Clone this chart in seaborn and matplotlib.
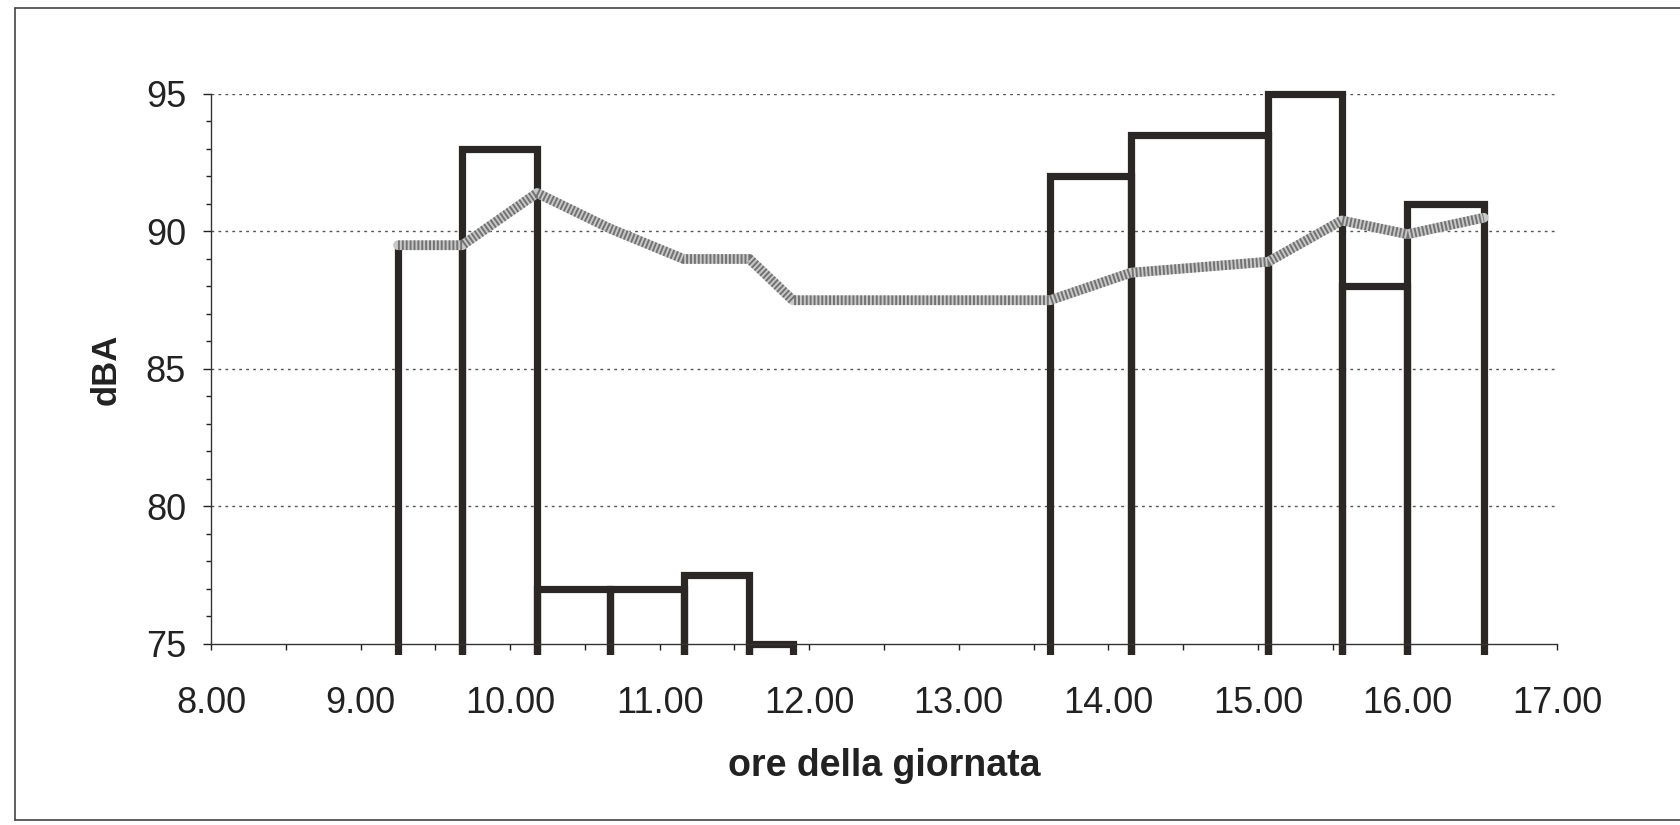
import matplotlib
matplotlib.use("Agg")
import numpy as np
import matplotlib.pyplot as plt
from matplotlib.lines import Line2D
from matplotlib.patches import Rectangle
from matplotlib.ticker import MultipleLocator, FormatStrFormatter
import seaborn as sns


# Misure del mattino: inizio di ogni intervallo (ore decimali) e livello
inizio_mattino = [9.25, 9.68, 10.18, 10.67, 11.16, 11.60]
fine_mattino = 11.89
livelli_mattino = [89.5, 93.0, 77.0, 77.0, 77.5, 75.0]

# Misure del pomeriggio
inizio_pomeriggio = [13.61, 14.15, 15.07, 15.56, 16.00]
fine_pomeriggio = 16.51
livelli_pomeriggio = [92.0, 93.5, 95.0, 88.0, 91.0]

# Livello equivalente progressivo (linea grigia)
leq_ore = [9.25, 9.68, 10.18, 10.67, 11.16, 11.60, 11.89,
           13.61, 14.15, 15.07, 15.56, 16.00, 16.51]
leq_dba = [89.5, 89.5, 91.4, 90.1, 89.0, 89.0, 87.5,
           87.5, 88.5, 88.9, 90.4, 89.9, 90.5]

x_ticks = [8, 9, 10, 11, 12, 13, 14, 15, 16, 17]
y_ticks = [75, 80, 85, 90, 95]


# Plot
sns.set_style("ticks", {'axes.grid': False,
                        'axes.facecolor': 'white',
                        'axes.edgecolor': '#333333'})
plt.rcParams['font.family'] = ['Liberation Sans', 'DejaVu Sans']

fig, ax = plt.subplots(figsize=(16.8, 8.25), dpi=100)
fig.subplots_adjust(left=0.1256, right=0.9268, top=0.8861, bottom=0.2194)

base = 74.4
for starts, end, levels in [(inizio_mattino, fine_mattino, livelli_mattino),
                            (inizio_pomeriggio, fine_pomeriggio, livelli_pomeriggio)]:
    starts = np.array(starts)
    widths = np.diff(np.append(starts, end))
    heights = np.array(levels) - base
    bars = ax.bar(starts, heights, widths, bottom=base, align='edge',
                  fill=False, edgecolor='#2b2727', linewidth=5.2,
                  joinstyle='miter', zorder=2)
    # lascia scendere i lati sotto l'asse, senza il bordo inferiore
    clip = Rectangle((7.9, 74.6), 9.5, 21.5, transform=ax.transData)
    for b in bars:
        b.set_clip_path(clip)

sns.lineplot(x=leq_ore, y=leq_dba, ax=ax, color='#c8c8c8',
             linewidth=7, sort=False, zorder=3)
ax.plot(leq_ore, leq_dba, color='#727272', linewidth=7,
        linestyle=(0, (0.2, 0.2)), dash_capstyle='butt', zorder=4)

ax.set_xlim(8, 17)
ax.set_ylim(75, 95)
ax.set_xticks(x_ticks)
ax.set_yticks(y_ticks)
ax.xaxis.set_major_formatter(FormatStrFormatter('%.2f'))
ax.xaxis.set_minor_locator(MultipleLocator(0.5))
ax.yaxis.set_minor_locator(MultipleLocator(1))

for y in y_ticks[1:]:
    ax.axhline(y, color='#555555', linewidth=1.0,
               linestyle=(0, (2, 3)), zorder=1)

sns.despine(ax=ax, top=True, right=True)
ax.spines['left'].set_linewidth(1.0)
ax.spines['bottom'].set_linewidth(1.0)

ax.tick_params(axis='x', which='both', direction='out', length=4,
               width=1, labelsize=26, pad=26, colors='#222222')
ax.tick_params(axis='y', which='major', direction='out', length=6,
               width=1, labelsize=26, pad=12, colors='#222222')
ax.tick_params(axis='y', which='minor', direction='out', length=3.5,
               width=1, colors='#222222')

ax.set_xlabel('ore della giornata', fontsize=27, fontweight='bold',
              labelpad=20, color='#222222')
ax.set_ylabel('dBA', fontsize=25, fontweight='bold',
              labelpad=17, color='#222222')

# cornice dell'area del grafico (lati sinistro, superiore, inferiore)
x0, y0, y1 = 0.009, 0.006, 0.990
for xs, ys in [([x0, x0], [y0, y1]), ([x0, 1.0], [y1, y1]), ([x0, 1.0], [y0, y0])]:
    fig.add_artist(Line2D(xs, ys, transform=fig.transFigure,
                          color='#444444', linewidth=1.2))

plt.savefig('out.png', dpi=100)
